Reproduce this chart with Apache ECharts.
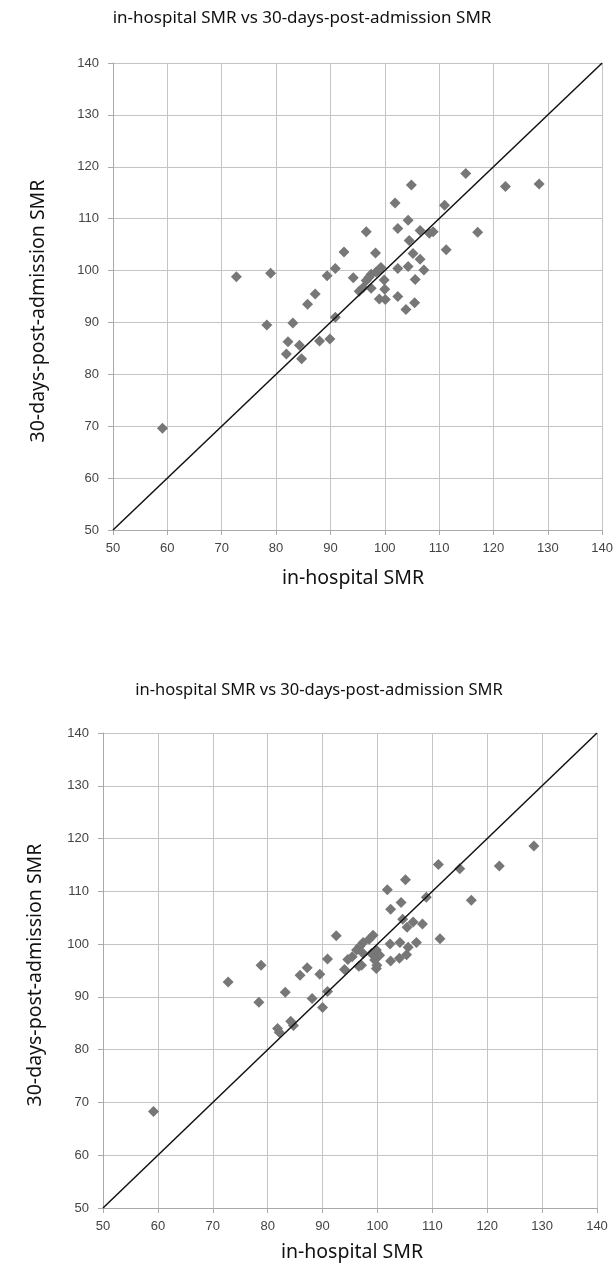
<!DOCTYPE html>
<html>
<head>
<meta charset="utf-8">
<script src="https://cdn.jsdelivr.net/npm/echarts@6/dist/echarts.min.js"></script>
<style>
html,body{margin:0;padding:0;background:#fff;}
#c{width:616px;height:1268px;}
</style>
</head>
<body>
<div id="c"></div>
<script>
const chartTitle = 'in-hospital SMR vs 30-days-post-admission SMR';
const xAxisName = 'in-hospital SMR';
const yAxisName = '30-days-post-admission SMR';
const axisMin = 50, axisMax = 140, axisStep = 10;

// Top chart: [in-hospital SMR, 30-days-post-admission SMR]
const topPoints = [
  [59.1,69.6],[72.7,98.8],[79.0,99.5],[78.3,89.5],[83.1,89.9],[82.2,86.3],[81.9,83.9],
  [84.3,85.6],[84.7,83.0],[88.0,86.4],[89.9,86.8],[85.8,93.5],[87.2,95.5],[89.4,99.0],
  [90.9,100.4],[90.9,91.0],[92.5,103.6],[94.2,98.6],[95.3,96.0],[96.0,96.7],[96.6,98.1],
  [96.6,107.5],[97.1,98.7],[97.5,99.3],[97.5,96.6],[98.3,103.4],[98.4,99.7],[98.9,100.1],
  [99.3,100.6],[99.0,94.5],[99.9,98.2],[100.0,96.4],[100.1,94.4],[101.9,113.0],[102.4,108.1],
  [102.4,100.4],[102.4,95.0],[103.9,92.5],[104.3,109.7],[104.3,100.8],[104.5,105.8],
  [104.9,116.5],[105.2,103.3],[105.6,98.3],[105.5,93.8],[106.5,102.2],[106.5,107.7],
  [107.2,100.1],[108.2,107.2],[108.9,107.5],[111.0,112.6],[111.3,104.0],[114.9,118.7],
  [117.1,107.4],[122.2,116.2],[128.4,116.7]
];

// Bottom chart
const bottomPoints = [
  [59.2,68.3],[72.8,92.8],[78.4,89.0],[78.8,96.0],[81.8,84.0],[82.1,83.3],[83.2,90.9],
  [84.2,85.4],[84.7,84.6],[85.9,94.1],[87.2,95.5],[88.1,89.7],[89.5,94.3],[90.0,88.0],
  [90.9,91.0],[90.9,97.2],[92.5,101.6],[94.0,95.2],[94.6,97.1],[95.4,97.6],[96.2,98.9],
  [96.8,99.6],[97.4,100.3],[97.4,98.2],[97.1,96.0],[96.6,95.8],[98.5,100.9],[98.9,98.2],
  [99.2,101.7],[99.5,97.0],[99.8,98.9],[99.8,95.4],[99.9,96.0],[100.4,97.9],[101.8,110.3],
  [102.3,100.0],[102.4,106.6],[102.4,96.8],[104.0,97.3],[104.1,100.3],[104.3,107.9],
  [104.6,104.7],[105.1,112.2],[105.3,98.0],[105.4,103.2],[105.6,99.4],[106.5,104.2],
  [107.1,100.3],[108.2,103.8],[108.9,108.9],[111.1,115.1],[111.4,101.0],[115.0,114.3],
  [117.1,108.3],[122.2,114.8],[128.5,118.6]
];

// Identity line y = x
const identityLine = [[50,50],[140,140]];

const grids = [
  {left:113, top:63, width:490, height:467},
  {left:103, top:733, width:494, height:475}
];

function makeAxis(type, gi){
  return {
    type:'value', gridIndex:gi, min:axisMin, max:axisMax, interval:axisStep,
    axisLine:{show:true, lineStyle:{color:'#aaa', width:1}},
    axisTick:{show:true, length:5, lineStyle:{color:'#aaa'}},
    axisLabel:{color:'#444', fontFamily:'Liberation Sans', fontSize:13, margin: type==='x'?12:14},
    splitLine:{show:true, lineStyle:{color:'#c4c4c4', width:1}}
  };
}

function txt(x, y, s, size, rot){
  return {type:'text', x:x, y:y, rotation:rot||0,
    style:{text:s, font:size+'px "Noto Sans"', fill:'#111', align:'center', verticalAlign:'middle'}};
}

const chart = echarts.init(document.getElementById('c'), null, {renderer:'canvas'});
chart.setOption({
  backgroundColor:'#fff',
  animation:false,
  grid: grids,
  xAxis:[makeAxis('x',0), makeAxis('x',1)],
  yAxis:[makeAxis('y',0), makeAxis('y',1)],
  graphic:[
    txt(302, 18, chartTitle, 17),
    txt(319, 690, chartTitle, 16.5),
    txt(353, 578, xAxisName, 19.5),
    txt(352, 1252, xAxisName, 19.5),
    txt(38, 311, yAxisName, 19.5, Math.PI/2),
    txt(35, 975, yAxisName, 19.5, Math.PI/2)
  ],
  series:[
    {type:'line', xAxisIndex:0, yAxisIndex:0, data:identityLine, symbol:'none', lineStyle:{color:'#111', width:1.5}, z:3},
    {type:'scatter', xAxisIndex:0, yAxisIndex:0, data:topPoints, symbol:'diamond', symbolSize:11, itemStyle:{color:'#777', opacity:1}, z:2},
    {type:'line', xAxisIndex:1, yAxisIndex:1, data:identityLine, symbol:'none', lineStyle:{color:'#111', width:1.5}, z:3},
    {type:'scatter', xAxisIndex:1, yAxisIndex:1, data:bottomPoints, symbol:'diamond', symbolSize:11, itemStyle:{color:'#777', opacity:1}, z:2}
  ]
});
</script>
</body>
</html>
